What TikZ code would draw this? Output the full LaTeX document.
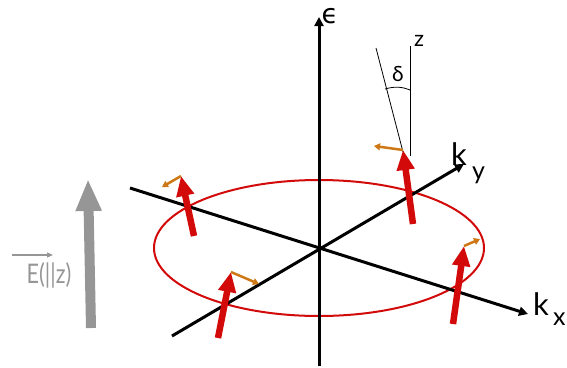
\documentclass[tikz,border=0pt]{standalone}
\usepackage{fontspec}
\setmainfont{Lato}
\newfontfamily\dvsans{DejaVu Sans}
\usetikzlibrary{arrows.meta}
\definecolor{spinred}{RGB}{210,10,10}
\definecolor{spinorange}{RGB}{205,120,20}
\definecolor{fieldgray}{RGB}{150,150,150}
\begin{document}
\begin{tikzpicture}[x=1pt,y=-1pt,
  axis/.style={line width=3pt,-{Triangle[length=9pt,width=9pt]}},
  spin/.style={spinred,line width=6.5pt,-{Triangle[length=20pt,width=17pt]}},
  tilt/.style={spinorange,line width=2.5pt,-{Triangle[length=6pt,width=7pt]}},
  thin/.style={line width=0.8pt},
  lab/.style={font=\fontsize{31}{31}\selectfont,inner sep=0pt}]
\useasboundingbox (0,0) rectangle (567,367);
% coordinates
\coordinate (O) at (319,248);
\coordinate (kxs) at (130,188);
\coordinate (kxe) at (528,314);
\coordinate (kys) at (172,336);
\coordinate (kye) at (464,164);
\coordinate (es) at (319,366);
\coordinate (ee) at (319,17);
% ellipse
\draw[spinred,line width=2pt] (O) ellipse [x radius=165, y radius=68];
% axes
\draw[axis] (kxs) -- (kxe);
\draw[axis] (kys) -- (kye);
\draw[axis] (es) -- (ee);
% labels
\node[inner sep=0pt,font=\dvsans\fontsize{27}{27}\selectfont,anchor=base] (eps) at (330,23) {ϵ};
\node[lab,anchor=base west] (kx) at (533,315) {k};
\node[inner sep=0pt,font=\fontsize{25}{25}\selectfont,anchor=base west] (kxsub) at (553,325) {x};
\node[lab,anchor=base west] (ky) at (451,165) {k};
\node[inner sep=0pt,font=\fontsize{25}{25}\selectfont,anchor=base west] (kysub) at (472,179) {y};
% z and delta
\coordinate (zb) at (410,156);
\coordinate (zt) at (410,46);
\coordinate (tb) at (403,152);
\coordinate (tt) at (376,48);
\draw[thin] (zb) -- (zt);
\draw[thin] (tb) -- (tt);
\draw[thin] (385,89) .. controls (395,86) and (403,87) .. (410,90);
\node[inner sep=0pt,font=\fontsize{22}{22}\selectfont] (z) at (419,41) {z};
\node[inner sep=0pt,font=\fontsize{21}{21}\selectfont] (d) at (398,74) {δ};
% spins
\coordinate (s1a) at (194,236); \coordinate (s1b) at (181,176);
\coordinate (s2a) at (218,338); \coordinate (s2b) at (231,272);
\coordinate (s3a) at (413,224); \coordinate (s3b) at (403,150);
\coordinate (s4a) at (453,324); \coordinate (s4b) at (464,246);
\draw[tilt] (s1b) -- (162,187);
\draw[tilt] (s2b) -- (259,284);
\draw[tilt] (s3b) -- (374,146);
\draw[tilt] (s4b) -- (480,239);
\draw[spin] (s1a) -- (s1b);
\draw[spin] (s2a) -- (s2b);
\draw[spin] (s3a) -- (s3b);
\draw[spin] (s4a) -- (s4b);
% field arrow
\coordinate (fa) at (91,328);
\coordinate (fb) at (88,179);
\draw[fieldgray,line width=10pt,-{Triangle[length=32pt,width=24pt]}] (fa) -- (fb);
\node[inner sep=0pt,text=fieldgray,font=\fontsize{27}{27}\selectfont,anchor=base] (E) at (49,283) {\scalebox{0.8}[1]{E(||z)}};
\draw[fieldgray,line width=1.3pt,-{Triangle[length=6pt,width=5pt]}] (12,255) -- (53,255);
\end{tikzpicture}
\end{document}
